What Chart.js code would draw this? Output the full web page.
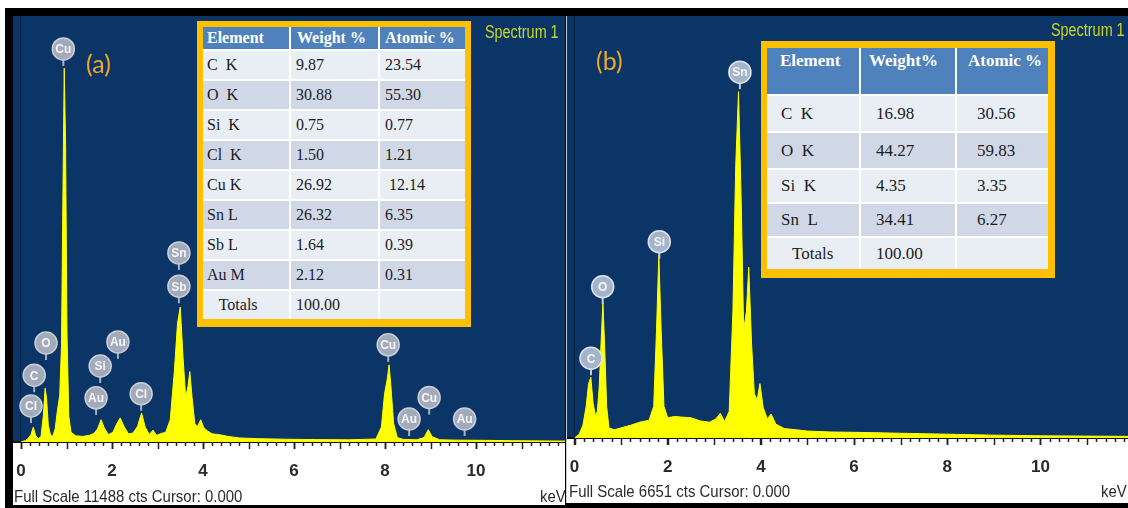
<!DOCTYPE html>
<html>
<head>
<meta charset="utf-8">
<script src="https://cdn.jsdelivr.net/npm/chart.js"></script>
<style>
  body { margin: 0; width: 1128px; height: 508px; background: #fff; position: relative; overflow: hidden; }
  #frame { position: absolute; left: 5px; top: 8px; width: 1123px; height: 500px; background: #000; }
  .panel { position: absolute; }
  #panelA { left: 13px; top: 16px; width: 552px; height: 489px; }
  #panelB { left: 567px; top: 16px; width: 561px; height: 487px; }
  #sepB { position: absolute; left: 566px; top: 16px; width: 1px; height: 487px; background: #c9ced8; }
  .tag { position: absolute; font-family: Lato, sans-serif; font-size: 25px; line-height: 25px; color: #efa82c; }
  .spec { position: absolute; font-family: "Liberation Sans", Arial, sans-serif; font-size: 18px; line-height: 18px;
          color: #c8d62a; transform: scaleX(0.8); transform-origin: left top; white-space: nowrap; }
  .foot { position: absolute; font-family: "Liberation Sans", Arial, sans-serif; font-size: 17px; line-height: 17px;
          color: #2b2b2b; transform: scaleX(0.88); transform-origin: left top; white-space: nowrap; }
  .tbl { position: absolute; background: #ffc000; }
  .tbl table { border-collapse: collapse; border-style: hidden; table-layout: fixed; font-family: "Liberation Serif", "Times New Roman", serif; color: #1c1c1c; }
  .tbl td, .tbl th { border: 2px solid #fff; padding: 0; text-align: left; white-space: pre; overflow: hidden; }
  .tbl th { background: #4f81bd; color: #fff; font-weight: bold; }
  .tbl tr:nth-child(even) td { background: #d0d8e8; }
  .tbl tr:nth-child(odd) td { background: #e9edf4; }
  #tblA { left: 197px; top: 21px; padding: 6px 6px 8px 6px; }
  #tblA table { width: 262px; font-size: 16px; }
  #tblA th { height: 22px; }
  #tblA td { height: 28px; }
  #tblB { left: 761px; top: 41px; padding: 7px 7px 9px 6px; }
  #tblB table { width: 281px; font-size: 17px; }
  #tblB th { height: 43px; vertical-align: top; padding-top: 3px; }
</style>
</head>
<body>
<div id="frame"></div>
<div class="panel" id="panelA"><canvas id="chartA" width="552" height="489"></canvas></div>
<div id="sepB"></div>
<div class="panel" id="panelB"><canvas id="chartB" width="561" height="487"></canvas></div>

<div class="tag" style="left:86px; top:51px;">(a)</div>
<div class="tag" style="left:596px; top:48px;">(b)</div>
<div class="spec" style="left:485px; top:23px;">Spectrum 1</div>
<div class="spec" style="left:1051px; top:21px;">Spectrum 1</div>
<div class="foot" style="left:14px; top:488px;">Full Scale 11488 cts Cursor: 0.000</div>
<div class="foot" style="left:540px; top:488px;">keV</div>
<div class="foot" style="left:569px; top:483px;">Full Scale 6651 cts Cursor: 0.000</div>
<div class="foot" style="left:1101px; top:483px;">keV</div>

<div class="tbl" id="tblA"></div>
<div class="tbl" id="tblB"></div>

<script>
// spectrum (a) - energy in keV, counts
const energyA = [0, 0.1, 0.15, 0.22, 0.27, 0.32, 0.38, 0.44, 0.49, 0.53,
  0.56, 0.6, 0.65, 0.7, 0.75, 0.8, 0.85, 0.89, 0.92, 0.95,
  0.98, 1.01, 1.05, 1.1, 1.2, 1.35, 1.5, 1.6, 1.68, 1.76,
  1.83, 1.92, 2.02, 2.1, 2.18, 2.26, 2.36, 2.46, 2.56, 2.65,
  2.73, 2.82, 2.9, 2.98, 3.08, 3.18, 3.28, 3.37, 3.44, 3.5,
  3.56, 3.62, 3.67, 3.71, 3.76, 3.82, 3.88, 3.95, 4.02, 4.1,
  4.2, 4.35, 4.55, 4.8, 5.2, 5.8, 6.5, 7.2, 7.8, 7.92,
  7.99, 8.05, 8.09, 8.13, 8.19, 8.27, 8.4, 8.7, 8.86, 8.95,
  9.04, 9.2, 9.6, 10.2, 10.8, 11.4, 12];
const countsA = [0, 40, 90, 200, 400, 180, 90, 150, 700, 1450,
  1200, 450, 180, 160, 350, 850, 1250, 2600, 6500, 10080,
  8000, 3000, 700, 260, 170, 150, 180, 230, 350, 600,
  380, 200, 260, 480, 650, 430, 220, 240, 420, 780,
  400, 200, 320, 180, 230, 260, 600, 1900, 3200, 3640,
  2300, 1200, 1500, 1900, 1200, 500, 420, 600, 380, 300,
  220, 200, 150, 110, 90, 75, 65, 60, 80, 400,
  1300, 1700, 2080, 1500, 500, 120, 70, 60, 120, 330,
  140, 60, 50, 45, 35, 30, 25];

// spectrum (b)
const energyB = [0, 0.1, 0.18, 0.25, 0.3, 0.35, 0.4, 0.45, 0.49, 0.53,
  0.57, 0.61, 0.65, 0.69, 0.74, 0.85, 1.0, 1.2, 1.4, 1.6,
  1.7, 1.76, 1.81, 1.86, 1.92, 2.0, 2.15, 2.3, 2.5, 2.7,
  2.9, 3.03, 3.13, 3.22, 3.32, 3.4, 3.46, 3.52, 3.58, 3.63,
  3.69, 3.74, 3.8, 3.86, 3.92, 3.98, 4.05, 4.14, 4.22, 4.32,
  4.5, 5.0, 5.5, 6.0, 7.0, 8.0, 9.0, 10.0, 11.0, 12.0];
const countsB = [0, 60, 200, 500, 850, 960, 550, 350, 420, 800,
  1500, 2150, 1400, 500, 160, 130, 160, 200, 250, 280,
  500, 1700, 2890, 1700, 500, 320, 340, 330, 320, 270,
  250, 300, 390, 260, 420, 2000, 4300, 5470, 3700, 1700,
  2000, 2700, 1500, 700, 600, 860, 480, 300, 380, 220,
  150, 110, 95, 90, 75, 60, 45, 35, 30, 25];

const fullScaleA = 11488;
const fullScaleB = 6651;
const tickKeV = [0, 2, 4, 6, 8, 10];

// element markers: name, keV, height in counts
const markElA = ["Cu", "Sn", "Sb", "O", "C", "Cl", "Au", "Si", "Au", "Cl", "Cu", "Au", "Cu", "Au"];
const markKevA = [0.93, 3.47, 3.47, 0.55, 0.29, 0.22, 2.13, 1.74, 1.65, 2.64, 8.07, 8.53, 8.97, 9.75];
const markCtsA = [10600, 5100, 4200, 2670, 1800, 970, 2700, 2050, 1190, 1300, 2620, 620, 1200, 620];
const markElB = ["Sn", "Si", "O", "C"];
const markKevB = [3.55, 1.82, 0.605, 0.354];
const markCtsB = [5780, 3100, 2390, 1260];

// quantification tables
const headA = ["Element", "Weight %", "Atomic %"];
const elementA = ["C  K", "O  K", "Si  K", "Cl  K", "Cu K", "Sn L", "Sb L", "Au M", "   Totals"];
const weightA = ["9.87", "30.88", "0.75", "1.50", "26.92", "26.32", "1.64", "2.12", "100.00"];
const atomicA = ["23.54", "55.30", "0.77", "1.21", " 12.14", "6.35", "0.39", "0.31", ""];
const headB = ["Element", "Weight%", "Atomic %"];
const elementB = ["C  K", "O  K", "Si  K", "Sn  L", "Totals"];
const weightB = ["16.98", "44.27", "4.35", "34.41", "100.00"];
const atomicB = ["30.56", "59.83", "3.35", "6.27", ""];

const NAVY = "#0b3566";

function buildTable(id, head, col1, col2, col3, widths, pads, headPads, rowHeights, firstPadLast) {
  const table = document.createElement("table");
  const cg = document.createElement("colgroup");
  widths.forEach((w) => {
    const c = document.createElement("col");
    c.style.width = w + "px";
    cg.appendChild(c);
  });
  table.appendChild(cg);
  const hr = document.createElement("tr");
  head.forEach((h, i) => {
    const th = document.createElement("th");
    th.textContent = h;
    th.style.paddingLeft = headPads[i] + "px";
    hr.appendChild(th);
  });
  table.appendChild(hr);
  col1.forEach((v, r) => {
    const tr = document.createElement("tr");
    [v, col2[r], col3[r]].forEach((t, i) => {
      const td = document.createElement("td");
      td.textContent = t;
      let p = pads[i];
      if (i === 0 && r === col1.length - 1 && firstPadLast) p = firstPadLast;
      td.style.paddingLeft = p + "px";
      if (rowHeights) td.style.height = rowHeights[r] + "px";
      tr.appendChild(td);
    });
    table.appendChild(tr);
  });
  document.getElementById(id).appendChild(table);
}

buildTable("tblA", headA, elementA, weightA, atomicA, [87, 89, 86], [4, 5, 5], [4, 6, 5], null, 0);
buildTable("tblB", headB, elementB, weightB, atomicB, [93, 96, 92], [14, 15, 20], [13, 8, 11], [35, 35, 32, 32, 31], 25);

// background, minor ticks, keV labels and element markers
const spectrumPlugin = {
  id: "spectrum",
  beforeDraw(chart) {
    const { ctx, chartArea } = chart;
    const x0 = chart.scales.x.getPixelForValue(0);
    ctx.save();
    ctx.fillStyle = "#ffffff";
    ctx.fillRect(0, 0, chart.width, chart.height);
    ctx.fillStyle = NAVY;
    ctx.fillRect(0, 0, chart.width, chartArea.bottom);
    ctx.fillStyle = "rgba(0,0,0,0.35)";
    ctx.fillRect(Math.round(x0) - 1, 0, 1, chartArea.bottom);
    ctx.restore();
  },
  afterDraw(chart, args, opts) {
    const { ctx, chartArea } = chart;
    const xs = chart.scales.x;
    const ys = chart.scales.y;
    ctx.save();
    ctx.strokeStyle = "#222";
    ctx.lineWidth = 1.5;
    for (let i = 0; i * 0.2 <= xs.max; i++) {
      const px = Math.round(xs.getPixelForValue(i * 0.2)) + 0.5;
      const len = i % 5 === 0 ? 7 : 4;
      ctx.beginPath();
      ctx.moveTo(px, chartArea.bottom);
      ctx.lineTo(px, chartArea.bottom + len);
      ctx.stroke();
    }
    // keV labels
    ctx.fillStyle = "#2a2a2a";
    ctx.font = "bold 17px 'Liberation Sans', Arial, sans-serif";
    ctx.textAlign = "center";
    ctx.textBaseline = "alphabetic";
    tickKeV.forEach((v) => {
      ctx.fillText(String(v), xs.getPixelForValue(v), chartArea.bottom + 34);
    });
    // markers
    opts.names.forEach((name, i) => {
      const x = xs.getPixelForValue(opts.kev[i]);
      const y = ys.getPixelForValue(opts.cts[i]);
      const r = 11;
      ctx.strokeStyle = opts.stem;
      ctx.lineWidth = 2;
      ctx.beginPath();
      ctx.moveTo(x, y + r);
      ctx.lineTo(x, y + r + 6);
      ctx.stroke();
      ctx.beginPath();
      ctx.arc(x, y, r, 0, Math.PI * 2);
      ctx.fillStyle = opts.fill;
      ctx.fill();
      ctx.lineWidth = 1.5;
      ctx.strokeStyle = opts.ring;
      ctx.stroke();
      ctx.fillStyle = "#f4f6fa";
      ctx.font = "bold 12px 'Liberation Sans', Arial, sans-serif";
      ctx.textAlign = "center";
      ctx.textBaseline = "middle";
      ctx.fillText(name, x, y + 1);
    });
    ctx.restore();
  },
};

function spectrumChart(canvasId, energies, counts, fullScale, xMin, xMax, padTop, axisHeight, marks) {
  const ctx = document.getElementById(canvasId).getContext("2d");
  return new Chart(ctx, {
    type: "line",
    data: {
      datasets: [
        {
          data: energies.map((e, i) => ({ x: e, y: counts[i] })),
          borderColor: "#ffff00",
          backgroundColor: "#ffff00",
          borderWidth: 1,
          fill: "origin",
          pointRadius: 0,
          tension: 0,
        },
      ],
    },
    options: {
      responsive: false,
      animation: false,
      layout: { padding: { left: 0, top: padTop, right: 0, bottom: 0 } },
      plugins: {
        legend: { display: false },
        tooltip: { enabled: false },
        spectrum: marks,
      },
      scales: {
        x: {
          type: "linear",
          min: xMin,
          max: xMax,
          afterBuildTicks: (axis) => {
            axis.ticks = tickKeV.map((v) => ({ value: v }));
          },
          afterFit: (axis) => {
            axis.height = axisHeight;
          },
          grid: { drawOnChartArea: false, drawTicks: true, tickLength: 7, tickColor: "#222", tickWidth: 1.5 },
          border: { display: true, color: "#111", width: 2 },
          ticks: { display: false },
        },
        y: { display: false, min: 0, max: fullScale },
      },
    },
    plugins: [spectrumPlugin],
  });
}

spectrumChart("chartA", energyA, countsA, fullScaleA, -0.176, 11.956, 0, 63, {
  names: markElA, kev: markKevA, cts: markCtsA, fill: "#a3abbb", ring: "#c9ced8", stem: "#a9b0be",
});
spectrumChart("chartB", energyB, countsB, fullScaleB, -0.161, 11.88, 1, 65, {
  names: markElB, kev: markKevB, cts: markCtsB, fill: "#a6b4ca", ring: "#dfe5ee", stem: "#c3ccd9",
});
</script>
</body>
</html>
